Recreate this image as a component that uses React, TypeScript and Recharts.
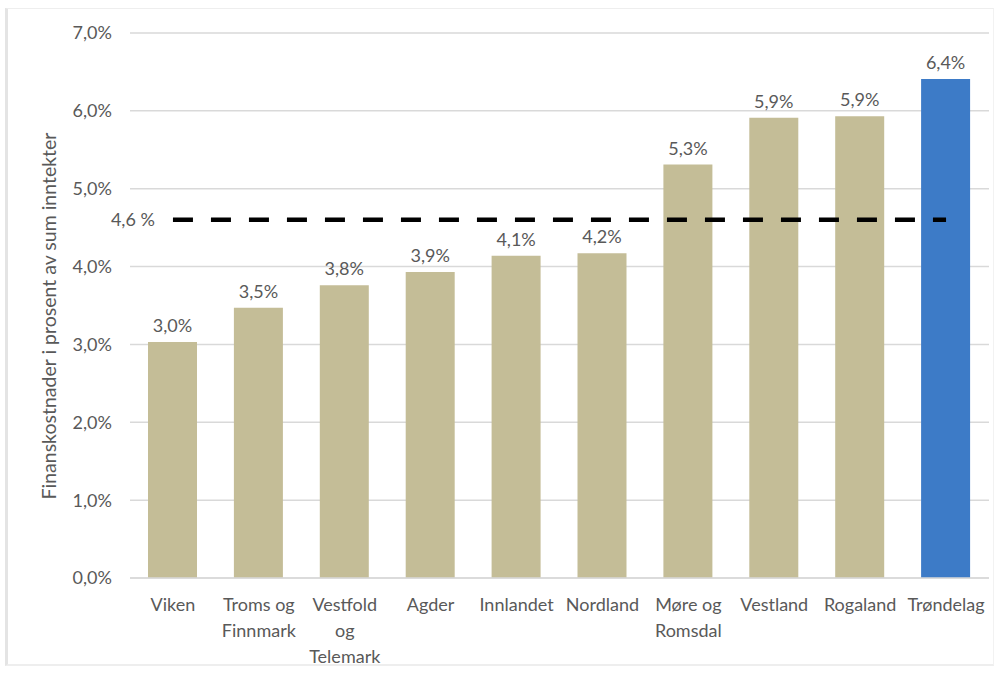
import React from 'react';
import { BarChart, Bar, XAxis, YAxis, CartesianGrid, ReferenceLine, LabelList, Cell } from 'recharts';

const regions = [
  'Viken',
  'Troms og Finnmark',
  'Vestfold og Telemark',
  'Agder',
  'Innlandet',
  'Nordland',
  'Møre og Romsdal',
  'Vestland',
  'Rogaland',
  'Trøndelag',
];
const shares = [3.03, 3.47, 3.76, 3.93, 4.14, 4.17, 5.31, 5.91, 5.93, 6.41];
const average = 4.6;
const yTicks = [0, 1, 2, 3, 4, 5, 6, 7];
const highlighted = 'Trøndelag';

const data = regions.map((name, i) => ({ name, value: shares[i] }));

const FONT = 'Lato, "Open Sans", sans-serif';
const GREY = '#595959';

const pct = (v: number) => v.toFixed(1).replace('.', ',') + '%';

// Excel-style word wrap: max ~8 characters per line
const wrap = (s: string, max = 8) => {
  const lines: string[] = [];
  let cur = '';
  s.split(' ').forEach((w) => {
    const next = cur ? cur + ' ' + w : w;
    if (next.length > max && cur) {
      lines.push(cur);
      cur = w;
    } else {
      cur = next;
    }
  });
  if (cur) lines.push(cur);
  return lines;
};

const CategoryTick = (props: any) => {
  const { x, y, payload } = props;
  const lines = wrap(payload.value);
  return (
    <g transform={`translate(${x},${y})`}>
      {lines.map((l, i) => (
        <text
          key={i}
          x={0}
          y={18 + i * 26}
          textAnchor="middle"
          fill={GREY}
          fontSize={18}
          fontFamily={FONT}
          dominantBaseline="central"
        >
          {l}
        </text>
      ))}
    </g>
  );
};

const AxisTitle = () => {
  const cx = 48;
  const cy = 316;
  return (
    <text
      x={cx}
      y={cy}
      transform={`rotate(-90, ${cx}, ${cy})`}
      textAnchor="middle"
      dominantBaseline="central"
      fill={GREY}
      fontSize={19.5}
      fontFamily={FONT}
    >
      Finanskostnader i prosent av sum inntekter
    </text>
  );
};

const App: React.FC = () => {
  return (
    <div style={{ position: 'absolute', left: 0, top: 0, width: 1008, height: 679, background: '#fff' }}>
      <div
        style={{
          position: 'absolute',
          left: 5,
          top: 8,
          width: 985,
          height: 655,
          borderLeft: '3px solid #e4e4e4',
          borderTop: '1px solid #eeeeee',
          borderRight: '1px solid #f2f2f2',
          borderBottom: '2px solid #eeeeee',
        }}
      />
      <div style={{ position: 'absolute', left: 0, top: 0 }}>
        <BarChart
          width={1008}
          height={679}
          data={data}
          margin={{ top: 33, right: 19, bottom: 0, left: 0 }}
          barSize={49}
        >
          <CartesianGrid vertical={false} stroke="#d9d9d9" strokeWidth={1.5} />
          <XAxis
            dataKey="name"
            axisLine={{ stroke: '#d9d9d9', strokeWidth: 1.5 }}
            tickLine={false}
            height={101}
            interval={0}
            tick={<CategoryTick />}
          />
          <YAxis
            width={130}
            domain={[0, 7]}
            ticks={yTicks}
            axisLine={false}
            tickLine={false}
            tickFormatter={pct}
            tick={{ fill: GREY, fontSize: 18, fontFamily: FONT }}
            tickMargin={12}
            label={<AxisTitle />}
          />
          <Bar dataKey="value" isAnimationActive={false}>
            {data.map((d) => (
              <Cell key={d.name} fill={d.name === highlighted ? '#3d7bc7' : '#c4bd97'} />
            ))}
            <LabelList
              dataKey="value"
              position="top"
              offset={10}
              formatter={(v: any) => pct(Number(v))}
              style={{ fill: GREY, fontSize: 18, fontFamily: FONT }}
            />
          </Bar>
          <ReferenceLine
            segment={[
              { x: regions[0], y: average },
              { x: regions[regions.length - 1], y: average },
            ]}
            stroke="#000"
            strokeWidth={4.5}
            strokeDasharray="20 18"
            label={{
              value: pct(average).replace('%', ' %'),
              position: 'left',
              offset: 18,
              style: { fill: GREY, fontSize: 18, fontFamily: FONT },
            }}
          />
        </BarChart>
      </div>
    </div>
  );
};

export default App;
